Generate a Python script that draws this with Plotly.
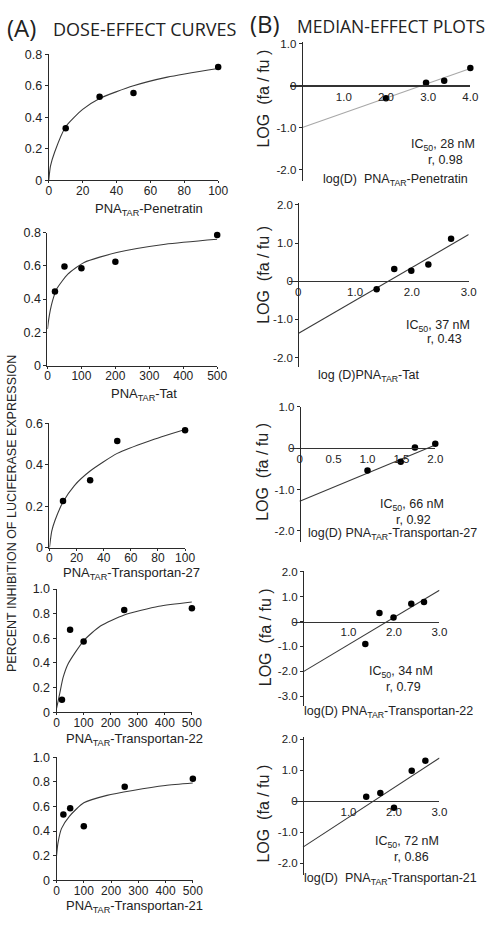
import plotly.graph_objects as go

# ---------------- data ----------------
# (A) dose-effect curves : dose (nM) vs fraction inhibited
a_names = ["Penetratin", "Tat", "Transportan-27", "Transportan-22", "Transportan-21"]

a1_dose = [10, 30, 50, 100]
a1_fa = [0.33, 0.53, 0.555, 0.72]
a1_curve_x = [0, 1, 3.5, 10, 20, 30, 50, 70, 100]
a1_curve_y = [0, 0.09, 0.18, 0.34, 0.45, 0.52, 0.60, 0.655, 0.71]

a2_dose = [22, 50, 100, 200, 500]
a2_fa = [0.445, 0.595, 0.585, 0.625, 0.785]
a2_curve_x = [0, 3, 8, 15, 27, 60, 108, 204, 347, 500]
a2_curve_y = [0.22, 0.27, 0.33, 0.39, 0.46, 0.55, 0.62, 0.68, 0.73, 0.76]

a3_dose = [10, 30, 50, 100]
a3_fa = [0.225, 0.325, 0.515, 0.567]
a3_curve_x = [0, 1.7, 4, 10, 18.4, 30, 50, 73.6, 100]
a3_curve_y = [0, 0.08, 0.13, 0.22, 0.30, 0.37, 0.455, 0.515, 0.57]

a4_dose = [20, 50, 100, 250, 500]
a4_fa = [0.10, 0.67, 0.575, 0.83, 0.845]
a4_curve_x = [0, 12, 24, 42, 100, 162, 250, 378, 500]
a4_curve_y = [0.03, 0.155, 0.28, 0.39, 0.58, 0.70, 0.79, 0.86, 0.895]

a5_dose = [25, 50, 100, 250, 500]
a5_fa = [0.535, 0.585, 0.44, 0.76, 0.825]
a5_curve_x = [0, 5, 18, 47, 100, 185, 280, 399, 500]
a5_curve_y = [0.20, 0.30, 0.42, 0.52, 0.63, 0.69, 0.73, 0.77, 0.79]

# tick labels (A)
a_yticks_08 = [0, 0.2, 0.4, 0.6, 0.8]
a_yticks_06 = [0, 0.2, 0.4, 0.6]
a_yticks_10 = [0, 0.2, 0.4, 0.6, 0.8, 1.0]
a_xticks_100 = [0, 20, 40, 60, 80, 100]
a_xticks_500 = [0, 100, 200, 300, 400, 500]

# (B) median-effect plots : log(D) vs log(fa/fu)
b1_logd = [2.0, 2.95, 3.38, 4.0]
b1_logf = [-0.30, 0.07, 0.12, 0.42]
b1_fit_x = [0, 4.0]
b1_fit_y = [-1.0, 0.41]

b2_logd = [1.38, 1.69, 1.99, 2.29, 2.69]
b2_logf = [-0.21, 0.32, 0.27, 0.44, 1.11]
b2_fit_x = [0, 3.0]
b2_fit_y = [-1.37, 1.22]

b3_logd = [1.0, 1.49, 1.70, 2.0]
b3_logf = [-0.54, -0.33, 0.02, 0.11]
b3_fit_x = [0, 2.0]
b3_fit_y = [-1.28, 0.08]

b4_logd = [1.37, 1.68, 1.99, 2.38, 2.66]
b4_logf = [-0.90, 0.34, 0.16, 0.71, 0.78]
b4_fit_x = [0, 3.0]
b4_fit_y = [-2.02, 1.25]

b5_logd = [1.39, 1.70, 2.0, 2.39, 2.69]
b5_logf = [0.14, 0.26, -0.21, 0.98, 1.30]
b5_fit_x = [0, 3.0]
b5_fit_y = [-1.48, 1.39]

b_ic50 = ["28", "37", "66", "34", "72"]
b_r = ["0.98", "0.43", "0.92", "0.79", "0.86"]

# ---------------- layout helpers ----------------
W, H = 493, 927
def fx(p):
    return p / W
def fy(p):
    return 1 - p / H

FONT = "Liberation Sans, Arial, sans-serif"
AX = "#2a2a2a"

fig = go.Figure()
layout = dict(
    width=W, height=H, margin=dict(l=0, r=0, t=0, b=0),
    paper_bgcolor="white", plot_bgcolor="rgba(0,0,0,0)",
    showlegend=False, font=dict(family=FONT, color="#222"),
)
annotations = []

# ---------- A panels ----------
a_sets = [
    (a1_dose, a1_fa, a1_curve_x, a1_curve_y, (47, 221, 48, 176), [0, 100], [0, 0.8], a_xticks_100, a_yticks_08),
    (a2_dose, a2_fa, a2_curve_x, a2_curve_y, (45.7, 220, 229, 364), [0, 500], [0, 0.8], a_xticks_500, a_yticks_08),
    (a3_dose, a3_fa, a3_curve_x, a3_curve_y, (47.7, 187, 422.7, 549), [0, 100], [0, 0.6], a_xticks_100, a_yticks_06),
    (a4_dose, a4_fa, a4_curve_x, a4_curve_y, (55, 194, 591, 716), [0, 500], [0, 1.0], a_xticks_500, a_yticks_10),
    (a5_dose, a5_fa, a5_curve_x, a5_curve_y, (55, 195, 761.7, 886.7), [0, 500], [0, 1.0], a_xticks_500, a_yticks_10),
]
a_title_pos = [(150, 206), (145, 393), (131.7, 575.5), (135.5, 744), (135.5, 913.3)]

def fmt_tick(v):
    if v == 0:
        return "0"
    return f"{v:.1f}"

for i, (dx, dy, cx, cy, (x0, x1, y0, y1), xr, yr, xt, yt) in enumerate(a_sets):
    n = i + 1
    xa = "x" if n == 1 else f"x{n}"
    ya = "y" if n == 1 else f"y{n}"
    fig.add_trace(go.Scatter(x=cx, y=cy, mode="lines", line=dict(color="#3a3a3a", width=1.1, shape="spline", smoothing=0.6),
                             xaxis=xa, yaxis=ya, cliponaxis=False, hoverinfo="skip"))
    fig.add_trace(go.Scatter(x=dx, y=dy, mode="markers", marker=dict(color="black", size=6.5),
                             xaxis=xa, yaxis=ya, cliponaxis=False))
    layout[f"xaxis{'' if n == 1 else n}"] = dict(
        domain=[fx(x0), fx(x1)], range=xr, anchor=ya, showgrid=False, zeroline=False,
        showline=True, linecolor=AX, linewidth=1, ticks="outside", ticklen=2, tickcolor=AX,
        ticklabelstandoff=-3,
        tickvals=xt, ticktext=[str(v) for v in xt], tickfont=dict(size=12, family=FONT, color="#222"),
    )
    layout[f"yaxis{'' if n == 1 else n}"] = dict(
        domain=[fy(y1), fy(y0)], range=yr, anchor=xa, showgrid=False, zeroline=False,
        showline=True, linecolor=AX, linewidth=1, ticks="outside", ticklen=3, tickcolor=AX,
        tickvals=yt, ticktext=[fmt_tick(v) for v in yt], tickfont=dict(size=12.5, family=FONT, color="#222"),
    )
    tx, ty = a_title_pos[i]
    annotations.append(dict(x=fx(tx), y=fy(ty), xref="paper", yref="paper", showarrow=False,
                            text=f"PNA<sub>TAR</sub>-{a_names[i]}", font=dict(size=13, family=FONT, color="#222"),
                            xanchor="center", yanchor="middle"))

# ---------- B panels ----------
b_sets = [
    (b1_logd, b1_logf, b1_fit_x, b1_fit_y, (295, 480, 36, 176.7), [-0.27, 4.0], [-2.27, 1.03],
     [1, 2, 3, 4], [-2, -1, 0, 1], "#a8a8a8", 2.2),
    (b2_logd, b2_logf, b2_fit_x, b2_fit_y, (293.3, 478.3, 199.3, 366), [-0.17, 3.0], [-2.26, 2.04],
     [0, 1, 2, 3], [-2, -1, 0, 1, 2], "#3a3a3a", 1.2),
    (b3_logd, b3_logf, b3_fit_x, b3_fit_y, (295, 444, 406, 543.3), [-0.14, 2.0], [-2.27, 1.0],
     [0, 0.5, 1, 1.5, 2], [-2, -1, 0, 1], "#3a3a3a", 1.2),
    (b4_logd, b4_logf, b4_fit_x, b4_fit_y, (298.3, 448.3, 572.3, 710), [-0.21, 3.0], [-3.40, 2.04],
     [1, 2, 3], [-3, -2, -1, 0, 1, 2], "#3a3a3a", 1.2),
    (b5_logd, b5_logf, b5_fit_x, b5_fit_y, (298.3, 448.3, 741.7, 881.7), [-0.21, 3.0], [-2.39, 2.05],
     [1, 2, 3], [-2, -1, 0, 1, 2], "#3a3a3a", 1.2),
]
b_ytitle_pos = [(268, 93), (268, 272), (267, 472), (269, 640), (268, 819)]
b_ic_pos = [(486.7, 140, 475, 155), (481.7, 323.5, 473.3, 337.5), (455, 505.5, 441.7, 520.5),
            (443.3, 675.5, 431.7, 690.5), (450, 847.5, 440, 863.5)]
b_lab_pos = [(403.3, 176), (375, 375), (399.7, 535), (395.5, 715.5), (397.5, 885)]
b_lab_text = ["log(D)  PNA<sub>TAR</sub>-Penetratin", "log (D)PNA<sub>TAR</sub>-Tat",
              "log(D) PNA<sub>TAR</sub>-Transportan-27", "log(D) PNA<sub>TAR</sub>-Transportan-22",
              "log(D)  PNA<sub>TAR</sub>-Transportan-21"]

def fmt_b(v):
    if v == 0:
        return "0"
    return f"{v:.1f}"

for i, (dx, dy, lx, ly, (x0, x1, y0, y1), xr, yr, xt, yt, lcol, hw) in enumerate(b_sets):
    n = i + 6
    xa, ya = f"x{n}", f"y{n}"
    fig.add_trace(go.Scatter(x=lx, y=ly, mode="lines", line=dict(color=lcol, width=1.1),
                             xaxis=xa, yaxis=ya, cliponaxis=False, hoverinfo="skip"))
    fig.add_trace(go.Scatter(x=dx, y=dy, mode="markers", marker=dict(color="black", size=6.5),
                             xaxis=xa, yaxis=ya, cliponaxis=False))
    dxp = [fx(x0), fx(x1)]
    dyp = [fy(y1), fy(y0)]
    ypos = dxp[0] + (0 - xr[0]) / (xr[1] - xr[0]) * (dxp[1] - dxp[0])
    xpos = dyp[0] + (0 - yr[0]) / (yr[1] - yr[0]) * (dyp[1] - dyp[0])
    layout[f"xaxis{n}"] = dict(
        domain=dxp, range=xr, anchor="free", position=xpos, showgrid=False, zeroline=False,
        showline=True, linecolor="#333", linewidth=hw, ticks="",
        tickvals=xt, ticktext=[fmt_b(v) for v in xt], tickfont=dict(size=11.5, family=FONT, color="#222"),
    )
    layout[f"yaxis{n}"] = dict(
        domain=dyp, range=yr, anchor="free", position=ypos, showgrid=False, zeroline=False,
        showline=True, linecolor=AX, linewidth=1, ticks="outside", ticklen=3, tickcolor=AX,
        tickvals=yt, ticktext=[fmt_b(v) for v in yt], tickfont=dict(size=11.5, family=FONT, color="#222"),
    )
    tx, ty = b_ytitle_pos[i]
    annotations.append(dict(x=fx(tx), y=fy(ty), xref="paper", yref="paper", showarrow=False,
                            text="LOG  (fa / fu )", textangle=-90, font=dict(size=16, family=FONT, color="#222"),
                            xanchor="center", yanchor="middle"))
    ix, iy, rx, ry = b_ic_pos[i]
    annotations.append(dict(x=fx(ix), y=fy(iy), xref="paper", yref="paper", showarrow=False,
                            text=f"IC<sub>50</sub>, {b_ic50[i]} nM", font=dict(size=12.5, family=FONT, color="#222"),
                            xanchor="right", yanchor="middle"))
    annotations.append(dict(x=fx(rx), y=fy(ry), xref="paper", yref="paper", showarrow=False,
                            text=f"r, {b_r[i]}", font=dict(size=12.5, family=FONT, color="#222"),
                            xanchor="right", yanchor="middle"))
    lx_, ly_ = b_lab_pos[i]
    annotations.append(dict(x=fx(lx_), y=fy(ly_), xref="paper", yref="paper", showarrow=False,
                            text=b_lab_text[i], font=dict(size=12.5, family=FONT, color="#222"),
                            xanchor="center", yanchor="middle"))

# headers and shared y title
HF = "Open Sans, Lato, sans-serif"
annotations += [
    dict(x=fx(2), y=fy(21), xref="paper", yref="paper", showarrow=False, text="(A)",
         font=dict(size=24, family=HF, color="#222"), xanchor="left", yanchor="middle"),
    dict(x=fx(49), y=fy(22), xref="paper", yref="paper", showarrow=False, text="DOSE-EFFECT CURVES",
         font=dict(size=18, family=HF, color="#222"), xanchor="left", yanchor="middle"),
    dict(x=fx(252), y=fy(17), xref="paper", yref="paper", showarrow=False, text="(B)",
         font=dict(size=24, family=HF, color="#222"), xanchor="left", yanchor="middle"),
    dict(x=fx(300), y=fy(19), xref="paper", yref="paper", showarrow=False, text="MEDIAN-EFFECT PLOTS",
         font=dict(size=17.5, family=HF, color="#222"), xanchor="left", yanchor="middle"),
    dict(x=fx(10), y=fy(514), xref="paper", yref="paper", showarrow=False,
         text="PERCENT INHIBITION OF LUCIFERASE EXPRESSION", textangle=-90,
         font=dict(size=12.5, family=FONT, color="#222"), xanchor="center", yanchor="middle"),
]
layout["annotations"] = annotations
fig.update_layout(**layout)
fig.write_html("out.html", config={"displayModeBar": False},
               post_script="document.body.style.margin='0px';document.body.style.overflow='hidden';")
